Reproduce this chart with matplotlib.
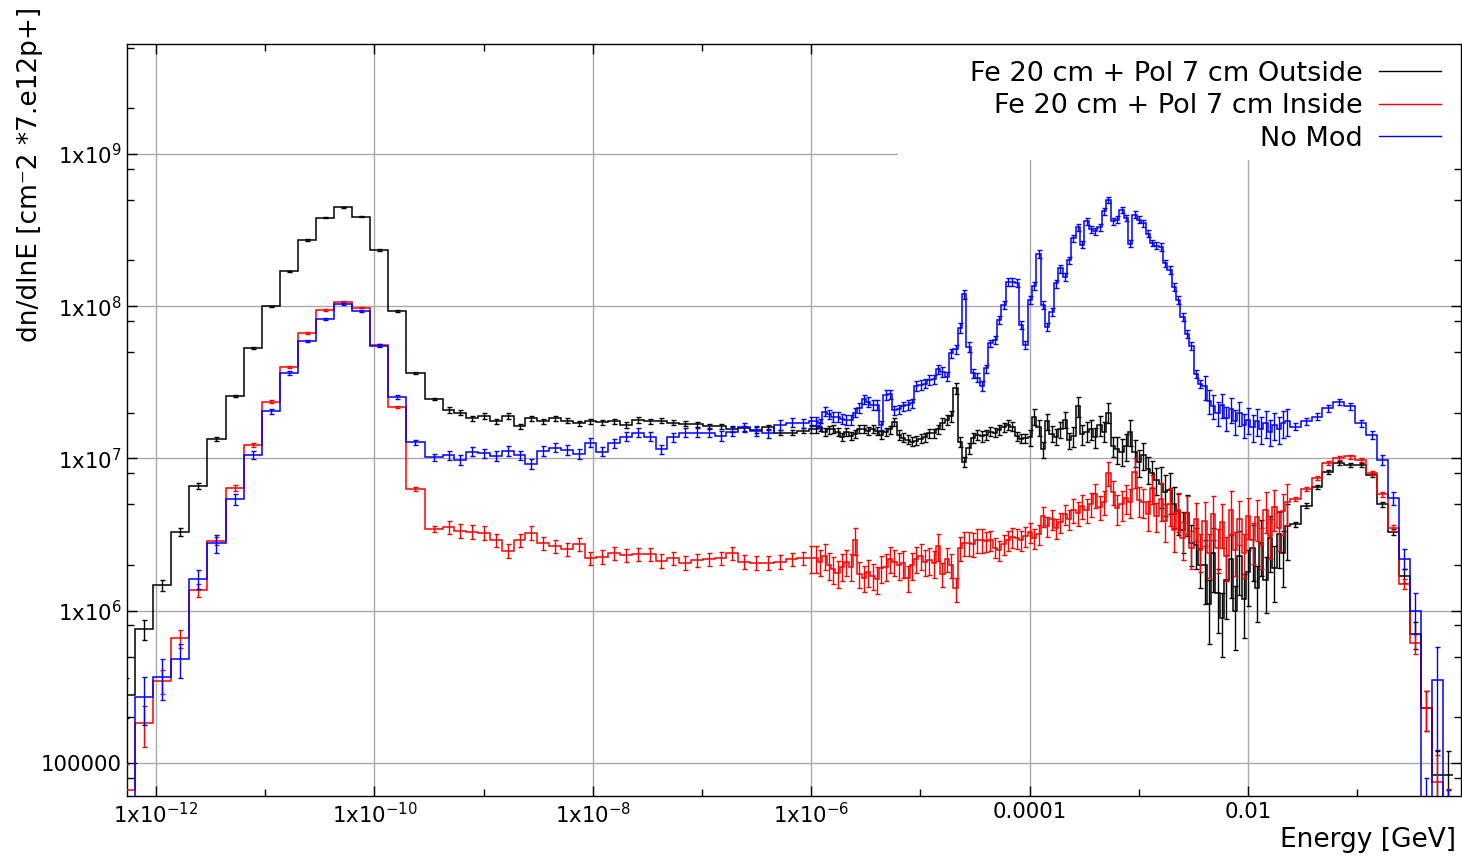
import numpy as np
import matplotlib
matplotlib.use('Agg')
import matplotlib.pyplot as plt
from matplotlib.ticker import FixedLocator, NullFormatter
from matplotlib.patches import Rectangle
from matplotlib.lines import Line2D

plt.rcParams['font.family'] = ['DejaVu Sans']
plt.rcParams['mathtext.default'] = 'regular'

# histogram binning: four log-spaced segments (log10 lower edge, n bins, log10 width)
seg_lo = [-12.358, -9.375, -6.018, -1.618]
seg_n = [18, 31, 110, 15]
seg_dw = [0.1657, 0.1083, 0.04, 0.1]

# ---- Fe 20 cm + Pol 7 cm Outside (values in units of 1e6) ----
black_A = [0.28, 0.76, 1.47, 3.3, 6.6, 13.4, 25.7, 53, 100, 169, 272, 380, 446, 387, 234, 93, 36.6, 24.6]
black_B = [20.8, 20.0, 18.4, 19.0, 17.5, 19.0, 16.3, 18.4, 17.5, 18.4, 17.7, 17.0, 17.5, 17.3, 17.5, 16.6,
           17.9, 17.5, 17.7, 17.2, 16.9, 16.8, 16.3, 16.3, 15.6, 15.8, 15.4, 16.0, 14.8, 14.8, 15.2]
black_C = [15.6, 15.6, 16.2, 15.0, 15.5, 15.6, 15.0, 13.9, 15.0, 14.0,
           14.5, 15.6, 15.6, 15.2, 15.6, 15.2, 14.3, 15.0, 15.5, 17.3,
           14.3, 13.7, 13.3, 12.9, 13.1, 13.5, 13.8, 14.6, 14.6, 15.6,
           17.0, 17.9, 19.0, 29.0, 12.9, 9.5, 11.7, 13.7, 14.3, 14.0,
           14.3, 15.0, 14.8, 15.4, 16.0, 16.6, 16.2, 14.0, 13.5, 13.6,
           13.8, 18.8, 16.0, 11.5, 17.5, 14.5, 13.9, 15.5, 17.9, 13.2,
           14.0, 22.0, 14.5, 15.0, 15.5, 13.8, 16.6, 15.0, 20.0, 12.1,
           11.5, 11.1, 12.0, 15.0, 11.0, 9.5, 10.5, 8.5, 8.0, 7.2,
           6.8, 6.0, 6.2, 5.0, 4.5, 3.4, 4.4, 2.8, 2.7, 2.0,
           2.0, 1.1, 2.4, 1.3, 0.9, 1.6, 2.2, 1.0, 2.3, 1.2,
           1.8, 2.6, 1.4, 2.8, 1.6, 3.0, 1.9, 3.2, 2.4, 3.6]
black_D = [3.7, 4.9, 6.5, 8.1, 9.3, 9.1, 9.0, 7.8, 5.0, 3.3, 1.7, 0.7, 0.23, 0.083, 0.083]
black_err_A = [0.3, 0.15, 0.08, 0.06, 0.05, 0.025, 0.02, 0.015, 0.01, 0.01, 0.008, 0.008, 0.008, 0.008,
               0.01, 0.01, 0.015, 0.02]
black_err_B = 0.04
black_err_C = [0.06, 0.06, 0.07, 0.08, 0.07, 0.12, 0.15, 0.2, 0.3, 0.45, 0.4]
black_err_D = [0.04, 0.04, 0.03, 0.03, 0.03, 0.03, 0.03, 0.03, 0.04, 0.05, 0.1, 0.2, 0.3, 0.45, 0.45]

# ---- Fe 20 cm + Pol 7 cm Inside ----
red_A = [0.066, 0.182, 0.347, 0.66, 1.36, 2.88, 6.4, 12.2, 23.6, 39.8, 67, 94, 107, 98, 56, 21.8, 6.3, 3.44]
red_B = [3.53, 3.35, 3.30, 3.26, 2.92, 2.48, 2.92, 3.26, 2.77, 2.66, 2.53, 2.74, 2.21, 2.26, 2.38, 2.32,
         2.36, 2.36, 2.13, 2.21, 2.07, 2.15, 2.18, 2.21, 2.38, 2.10, 2.07, 2.07, 2.10, 2.18, 2.21]
red_C = [2.21, 2.21, 2.10, 2.30, 2.00, 1.87, 1.77, 1.95, 2.10, 1.95,
         2.90, 1.75, 1.65, 1.80, 1.70, 1.62, 1.90, 1.95, 2.20, 2.10,
         2.00, 2.05, 1.65, 2.00, 2.20, 2.30, 2.10, 2.15, 2.05, 2.65,
         1.75, 2.20, 2.00, 1.40, 2.60, 2.78, 2.80, 2.75, 2.90, 2.92,
         2.85, 2.92, 2.60, 2.50, 2.75, 2.90, 3.05, 3.00, 2.90, 3.10,
         3.30, 3.00, 3.20, 4.20, 3.60, 4.00, 3.50, 3.80, 4.30, 4.00,
         4.60, 4.40, 4.90, 4.60, 5.00, 5.80, 4.80, 5.20, 8.00, 6.00,
         4.70, 5.00, 5.50, 5.20, 8.20, 5.30, 5.20, 4.30, 6.40, 4.20,
         5.40, 3.90, 5.00, 3.40, 4.60, 3.00, 4.40, 2.60, 4.00, 2.50,
         3.90, 2.40, 4.30, 2.60, 3.80, 2.30, 4.60, 2.50, 4.00, 2.40,
         4.20, 2.90, 4.10, 2.70, 4.60, 3.10, 4.80, 3.50, 4.50, 5.20]
red_D = [5.45, 6.3, 7.4, 9.3, 10.0, 10.3, 9.8, 8.0, 5.8, 3.5, 1.5, 0.61, 0.23, 0.075, 0.045]
red_err_A = [0.5, 0.3, 0.18, 0.14, 0.1, 0.06, 0.05, 0.03, 0.025, 0.02, 0.015, 0.012, 0.012, 0.012,
             0.015, 0.02, 0.03, 0.04]
red_err_B = 0.1
red_err_C = [0.2, 0.2, 0.2, 0.18, 0.15, 0.15, 0.18, 0.22, 0.28, 0.32, 0.3]
red_err_D = [0.03, 0.03, 0.03, 0.03, 0.03, 0.03, 0.03, 0.03, 0.04, 0.05, 0.08, 0.15, 0.3, 0.5, 0.5]

# ---- No Mod ----
blue_A = [0.03, 0.272, 0.369, 0.48, 1.62, 2.77, 5.4, 10.5, 20.4, 36.6, 59, 83, 103, 93, 55, 25.5, 12.8, 10.2]
blue_B = [10.5, 9.8, 11.1, 10.8, 10.4, 11.2, 10.5, 9.2, 11.2, 11.8, 11.4, 10.7, 12.7, 11.1, 12.6, 13.9,
          14.8, 13.9, 11.5, 13.8, 14.8, 14.8, 14.8, 14.1, 15.0, 16.0, 15.2, 14.6, 16.6, 17.2, 17.0]
blue_C = [17.5, 17.5, 17.0, 20.3, 19.5, 18.8, 18.8, 18.2, 17.9, 17.9,
          20.0, 21.5, 24.5, 23.5, 22.5, 22.5, 16.5, 26.2, 26.5, 20.8,
          21.0, 22.0, 22.5, 23.0, 30.0, 30.4, 31.0, 32.8, 33.0, 38.5,
          37.0, 34.5, 49.0, 52.0, 72.0, 120, 54.0, 36.3, 34.0, 30.0,
          39.0, 57.0, 60.0, 81.0, 102, 145, 145, 142, 75.0, 56.0,
          110, 135, 220, 102, 73.0, 92.0, 141, 177, 155, 200,
          279, 330, 254, 360, 320, 310, 330, 420, 500, 360,
          370, 430, 380, 258, 400, 370, 350, 300, 260, 250,
          245, 191, 173, 134, 110, 85.0, 66.0, 55.0, 36.0, 31.0,
          29.7, 24.0, 22.0, 20.0, 22.5, 18.5, 21.0, 17.5, 20.0, 16.5,
          18.0, 16.0, 17.5, 15.5, 17.0, 15.0, 16.5, 15.5, 17.0, 17.5]
blue_D = [16.2, 17.5, 18.8, 21.3, 23.5, 22.0, 17.0, 14.3, 9.8, 5.5, 2.2, 1.0, 0.05, 0.35, 0.04]
blue_err_A = [0.5, 0.35, 0.3, 0.25, 0.14, 0.13, 0.08, 0.06, 0.04, 0.03, 0.02, 0.015, 0.015, 0.015,
              0.02, 0.03, 0.04, 0.05]
blue_err_B = 0.07
blue_err_C = [0.07, 0.07, 0.07, 0.07, 0.06, 0.06, 0.05, 0.05, 0.06, 0.18, 0.2]
blue_err_D = [0.05, 0.05, 0.05, 0.05, 0.05, 0.05, 0.05, 0.06, 0.07, 0.1, 0.15, 0.3, 0.6, 0.65, 0.65]

labels = ['Fe 20 cm + Pol 7 cm Outside', 'Fe 20 cm + Pol 7 cm Inside', 'No Mod']
colors = ['black', 'red', 'blue']

xticks = [1e-12, 1e-10, 1e-8, 1e-6, 1e-4, 1e-2]
xticklabels = ['1x10$^{-12}$', '1x10$^{-10}$', '1x10$^{-8}$', '1x10$^{-6}$', '0.0001', '0.01']
yticks = [1e5, 1e6, 1e7, 1e8, 1e9]
yticklabels = ['100000', '1x10$^{6}$', '1x10$^{7}$', '1x10$^{8}$', '1x10$^{9}$']


def log_edges():
    parts = [lo + dw * np.arange(n) for lo, n, dw in zip(seg_lo, seg_n, seg_dw)]
    parts.append([seg_lo[-1] + seg_n[-1] * seg_dw[-1]])
    return np.concatenate(parts)


def series(a, b, c, d):
    return np.concatenate([a, b, c, d]) * 1e6


def rel_err(ea, eb, ec, ed):
    return np.concatenate([ea, np.full(seg_n[1], eb), np.repeat(ec, 10), ed])


le = log_edges()
edges = 10 ** le
centers = 10 ** (0.5 * (le[:-1] + le[1:]))

data = [
    (series(black_A, black_B, black_C, black_D), rel_err(black_err_A, black_err_B, black_err_C, black_err_D)),
    (series(red_A, red_B, red_C, red_D), rel_err(red_err_A, red_err_B, red_err_C, red_err_D)),
    (series(blue_A, blue_B, blue_C, blue_D), rel_err(blue_err_A, blue_err_B, blue_err_C, blue_err_D)),
]

fig = plt.figure(figsize=(14.62, 8.56), dpi=100)
ax = fig.add_axes([127 / 1462, 60 / 856, 1334 / 1462, 752 / 856])
ax.set_xscale('log')
ax.set_yscale('log')
ax.set_xlim(10 ** -12.266, 10 ** -0.049)
ax.set_ylim(10 ** 4.783, 10 ** 9.722)

for (vals, rel), col in zip(data, colors):
    ax.stairs(vals, edges, color=col, lw=1.1, baseline=None, zorder=3)
    ax.errorbar(centers, vals, yerr=[vals * rel, vals * rel], fmt='none', ecolor=col,
                elinewidth=1, capsize=1.8, capthick=1, zorder=3)

ax.xaxis.set_major_locator(FixedLocator(xticks))
ax.set_xticklabels(xticklabels)
ax.xaxis.set_minor_locator(FixedLocator([10.0 ** e for e in range(-13, 1, 2)]))
ax.xaxis.set_minor_formatter(NullFormatter())
ax.yaxis.set_major_locator(FixedLocator(yticks))
ax.set_yticklabels(yticklabels)
ax.yaxis.set_minor_locator(FixedLocator([m * 10.0 ** e for e in range(4, 10) for m in (2, 5, 8)]))
ax.yaxis.set_minor_formatter(NullFormatter())
ax.tick_params(which='both', direction='in', top=True, right=True, width=1, labelsize=15.3)
ax.tick_params(which='major', length=7, pad=4)
ax.tick_params(which='minor', length=5)

ax.set_axisbelow(True)
ax.grid(True, which='major', color='#aaaaaa', lw=1)
for sp in ax.spines.values():
    sp.set_linewidth(1)

# opaque key area hides the grid behind the legend
ax.add_patch(Rectangle((0.578, 0.846), 0.422, 0.154, transform=ax.transAxes,
                       facecolor='white', edgecolor='none', zorder=1.5))

handles = [Line2D([], [], color=c, lw=1) for c in colors]
ax.legend(handles, labels, loc='upper right', bbox_to_anchor=(0.985, 0.978), frameon=False,
          markerfirst=False, fontsize=19.5, handlelength=2.3, handletextpad=0.6,
          labelspacing=0.24, borderaxespad=0, borderpad=0)

ax.set_ylabel('dn/dlnE [cm\u207b2 *7.e12p+]', fontsize=19, va='center', ha='center')
ax.yaxis.set_label_coords(-0.073, 0.827)
ax.set_xlabel('Energy [GeV]', fontsize=19, ha='right', va='center')
ax.xaxis.set_label_coords(0.996, -0.0585)

fig.savefig('out.png', dpi=100)
